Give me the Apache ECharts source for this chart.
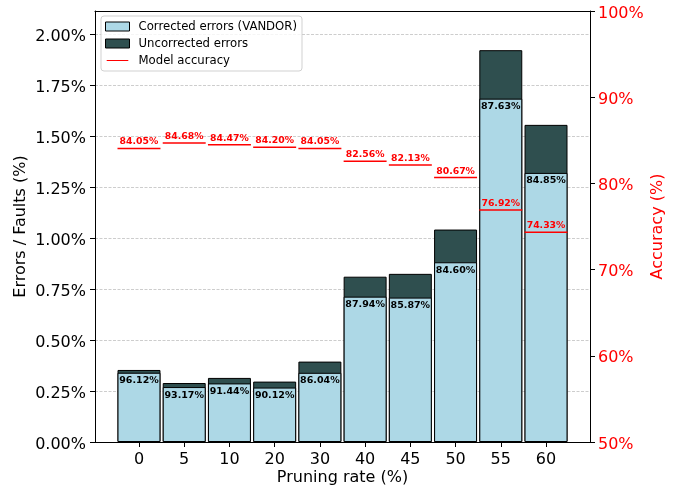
<!DOCTYPE html>
<html>
<head>
<meta charset="utf-8">
<script src="https://cdn.jsdelivr.net/npm/echarts@6/dist/echarts.min.js"></script>
<style>
html,body{margin:0;padding:0;background:#fff;}
#chart{width:678px;height:491px;}
</style>
</head>
<body>
<div id="chart"></div>
<script>
// ---- data ----
const categories = ['0', '5', '10', '20', '30', '40', '45', '50', '55', '60'];
const totalErrors = [0.353, 0.289, 0.314, 0.296, 0.394, 0.810, 0.824, 1.041, 1.920, 1.554]; // % of faults (corrected + uncorrected)
const correctedShare = [96.12, 93.17, 91.44, 90.12, 86.04, 87.94, 85.87, 84.60, 87.63, 84.85]; // % of errors corrected
const accuracy = [84.05, 84.68, 84.47, 84.20, 84.05, 82.56, 82.13, 80.67, 76.92, 74.33];
const leftTicks = [0, 0.25, 0.5, 0.75, 1.0, 1.25, 1.5, 1.75, 2.0];
const rightTicks = [50, 60, 70, 80, 90, 100];

const corrected = totalErrors.map((t, i) => t * correctedShare[i] / 100);
const idx = categories.map((c, i) => i);

const FONT = '"DejaVu Sans", "Liberation Sans", sans-serif';
const chart = echarts.init(document.getElementById('chart'), null, {renderer: 'canvas'});

const xMin = -0.9725, xMax = 9.9725;

const option = {
  animation: false,
  textStyle: {fontFamily: FONT},
  grid: {left: 95, right: 88, top: 11, bottom: 49, containLabel: false},
  legend: {
    left: 101, top: 16, orient: 'vertical',
    padding: [4, 5, 4, 4],
    itemWidth: 24, itemHeight: 9, itemGap: 4,
    borderColor: 'rgba(204,204,204,0.9)', borderWidth: 1, borderRadius: 3,
    backgroundColor: 'rgba(255,255,255,0.8)',
    textStyle: {fontFamily: FONT, fontSize: 11.7, color: '#000', lineHeight: 13, padding: [0, 0, 0, 4]},
    data: [
      {name: 'Corrected errors (VANDOR)', icon: 'rect', itemStyle: {borderColor: '#000', borderWidth: 1}},
      {name: 'Uncorrected errors', icon: 'rect', itemStyle: {borderColor: '#000', borderWidth: 1}},
      {name: 'Model accuracy', icon: 'path://M0,4.4H24V5.6H0Z M0,0H0.01V0.01H0Z M23.99,9.99H24V10H23.99Z', itemStyle: {borderWidth: 0, color: '#ff0000'}}
    ]
  },
  xAxis: [{
    type: 'value', min: xMin, max: xMax,
    name: 'Pruning rate (%)', nameLocation: 'middle', nameGap: 28, nameMoveOverlap: false,
    nameTextStyle: {fontSize: 16, color: '#000', fontFamily: FONT},
    axisLine: {show: true, onZero: false, lineStyle: {color: '#000', width: 1}},
    axisTick: {show: true, customValues: idx, length: 5, lineStyle: {color: '#000', width: 1}},
    axisLabel: {customValues: idx, formatter: v => categories[Math.round(v)], fontSize: 16, color: '#000', margin: 10, fontFamily: FONT},
    splitLine: {show: false}
  }, {
    type: 'value', min: xMin, max: xMax, position: 'top', z: 10,
    axisLine: {show: true, onZero: false, lineStyle: {color: '#000', width: 1}},
    axisTick: {show: false}, axisLabel: {show: false}, splitLine: {show: false}
  }],
  yAxis: [{
    type: 'value', min: 0, max: 2.112, interval: 0.25,
    name: 'Errors / Faults (%)', nameLocation: 'middle', nameGap: 66, nameMoveOverlap: false,
    nameTextStyle: {fontSize: 16, color: '#000', fontFamily: FONT},
    axisLine: {show: true, onZero: false, lineStyle: {color: '#000', width: 1}},
    axisTick: {show: true, customValues: leftTicks, length: 5, lineStyle: {color: '#000', width: 1}},
    axisLabel: {
      customValues: leftTicks, formatter: v => '{v|' + v.toFixed(2) + '%}', margin: 9,
      rich: {v: {fontSize: 16, color: '#000', fontFamily: FONT, padding: [5, 0, 0, 0]}}
    },
    splitLine: {show: true, lineStyle: {color: '#c0c0c0', width: 0.8, type: [3, 1.5]}}
  }, {
    type: 'value', min: 50, max: 100, interval: 10, position: 'right',
    name: 'Accuracy (%)', nameLocation: 'middle', nameGap: 60, nameMoveOverlap: false,
    nameTextStyle: {fontSize: 16, color: '#ff0000', fontFamily: FONT},
    axisLine: {show: true, onZero: false, lineStyle: {color: '#000', width: 1}},
    axisTick: {show: true, customValues: rightTicks, length: 5, lineStyle: {color: '#000', width: 1}},
    axisLabel: {
      customValues: rightTicks, formatter: v => '{v|' + v + '%}', margin: 8,
      rich: {v: {fontSize: 16, color: '#ff0000', fontFamily: FONT, padding: [5, 0, 0, 0]}}
    },
    splitLine: {show: false}
  }],
  series: [{
    // full bar (corrected + uncorrected); the corrected part is drawn over its lower portion
    name: 'Uncorrected errors', type: 'bar', barWidth: '95%',
    xAxisIndex: 0, yAxisIndex: 0, z: 2,
    itemStyle: {color: '#2f4f4f', borderColor: '#000', borderWidth: 1},
    data: totalErrors.map((v, i) => [i, v])
  }, {
    name: 'Corrected errors (VANDOR)', type: 'bar', barWidth: '95%', barGap: '-100%',
    xAxisIndex: 0, yAxisIndex: 0, z: 3,
    itemStyle: {color: '#add8e6', borderColor: '#000', borderWidth: 1},
    label: {
      show: true, position: 'insideTop', distance: 3,
      formatter: p => correctedShare[p.dataIndex].toFixed(2) + '%',
      fontSize: 9.5, fontWeight: 'bold', color: '#000', fontFamily: FONT
    },
    data: corrected.map((v, i) => [i, v])
  }, {
    name: 'Model accuracy', type: 'custom', xAxisIndex: 0, yAxisIndex: 1, z: 5,
    itemStyle: {color: '#ff0000'},
    renderItem: function (params, api) {
      const x = api.value(0), y = api.value(1);
      const p1 = api.coord([x - 0.475, y]);
      const p2 = api.coord([x + 0.475, y]);
      return {
        type: 'group',
        children: [{
          type: 'line',
          shape: {x1: p1[0], y1: p1[1], x2: p2[0], y2: p2[1]},
          style: {stroke: '#ff0000', lineWidth: 1.5}
        }, {
          type: 'text',
          x: (p1[0] + p2[0]) / 2, y: p1[1] - 2,
          style: {text: y.toFixed(2) + '%', fill: '#ff0000', font: 'bold 9.3px ' + FONT, align: 'center', verticalAlign: 'bottom'}
        }]
      };
    },
    data: accuracy.map((a, i) => [i, a])
  }]
};
chart.setOption(option);
</script>
</body>
</html>
